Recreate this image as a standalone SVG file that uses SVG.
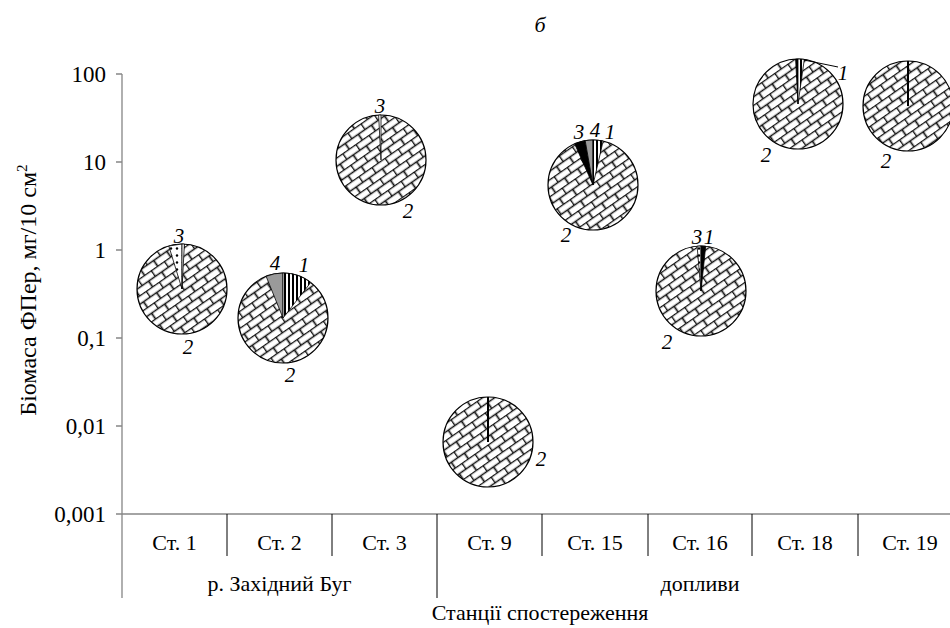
<svg xmlns="http://www.w3.org/2000/svg" width="950" height="628" viewBox="0 0 950 628" font-family="'Liberation Serif', 'DejaVu Serif', 'Times New Roman', serif">
<style>
text{font-family:"Liberation Serif","DejaVu Serif","Times New Roman",serif;fill:#000}
.tick{font-size:23px;text-anchor:end}
.cat{font-size:22px;text-anchor:middle}
.lab{font-size:21px;font-style:italic;text-anchor:middle}
.ax{stroke:#868686;stroke-width:1.3;fill:none}
.sep{stroke:#000;stroke-width:1;fill:none}
.pie{fill:url(#brick);stroke:#000;stroke-width:1.2}
.s1{fill:url(#stripes);stroke:#000;stroke-width:0.8}
.s3{fill:url(#dots);stroke:#000;stroke-width:0.8}
.s4{fill:#9a9a9a;stroke:#000;stroke-width:0.8}
.blk{fill:#000;stroke:#000;stroke-width:0.8}
.ln{stroke:#000;stroke-width:2}
</style>
<defs>
<pattern id="brick" width="16" height="14" patternUnits="userSpaceOnUse" patternTransform="rotate(-35)">
<rect width="16" height="14" fill="#fff"/>
<path d="M0 0.5H16M0 7.5H16M0.5 0.5V7.5M8.5 7.5V14" stroke="#111" stroke-width="1.7" fill="none"/>
</pattern>
<pattern id="stripes" width="4" height="4" patternUnits="userSpaceOnUse">
<rect width="4" height="4" fill="#fff"/>
<rect width="2" height="4" fill="#000"/>
</pattern>
<pattern id="dots" width="6" height="7" patternUnits="userSpaceOnUse">
<rect width="6" height="7" fill="#fff"/>
<circle cx="3" cy="3.5" r="1.2" fill="#000"/>
</pattern>
</defs>

<text x="540" y="32" style="font-size:22px;font-style:italic" text-anchor="middle">б</text>

<g id="axes">
<path class="ax" d="M122 74V598M116 74H122M116 162H122M116 250H122M116 338H122M116 426H122M116 514H950"/>
<path class="sep" d="M227 514V556M332 514V556M437 514V598M542 514V556M648 514V556M752 514V556M858 514V556"/>
<text class="tick" x="106" y="82">100</text>
<text class="tick" x="106" y="170">10</text>
<text class="tick" x="106" y="258">1</text>
<text class="tick" x="106" y="346">0,1</text>
<text class="tick" x="106" y="434">0,01</text>
<text class="tick" x="106" y="522">0,001</text>
<text transform="translate(36 290) rotate(-90)" text-anchor="middle" style="font-size:24px">Біомаса ФПер, мг/10 см<tspan font-size="15" dy="-9">2</tspan></text>
<text class="cat" x="174.5" y="550">Ст. 1</text>
<text class="cat" x="279.5" y="550">Ст. 2</text>
<text class="cat" x="384.5" y="550">Ст. 3</text>
<text class="cat" x="489.5" y="550">Ст. 9</text>
<text class="cat" x="595" y="550">Ст. 15</text>
<text class="cat" x="700" y="550">Ст. 16</text>
<text class="cat" x="805" y="550">Ст. 18</text>
<text class="cat" x="910" y="550">Ст. 19</text>
<text class="cat" x="279.5" y="591">р. Західний Буг</text>
<text class="cat" x="700" y="591">допливи</text>
<text class="cat" x="540" y="620">Станції спостереження</text>
</g>

<g id="st1">
<circle class="pie" cx="182" cy="289" r="45"/>
<path class="s3" d="M182 289L168.8 246L182 244Z"/>
<path class="s1" d="M182 289L182 244L184.4 244.1Z"/>
<text class="lab" x="179" y="243">3</text>
<text class="lab" x="188" y="354">2</text>
</g>

<g id="st2">
<circle class="pie" cx="283" cy="318" r="45"/>
<path class="s4" d="M283 318L266.1 276.3A45 45 0 0 1 283 273Z"/>
<path class="s1" d="M283 318L283 273A45 45 0 0 1 310.7 282.5Z"/>
<text class="lab" x="275" y="270">4</text>
<text class="lab" x="304" y="272">1</text>
<text class="lab" x="290" y="382">2</text>
</g>

<g id="st3">
<circle class="pie" cx="381" cy="160" r="45"/>
<path d="M381 160L378.6 115.1A45 45 0 0 1 381 115Z" fill="#fff" stroke="#000" stroke-width="0.8"/>
<text class="lab" x="380" y="113">3</text>
<text class="lab" x="408" y="218">2</text>
</g>

<g id="st9">
<circle class="pie" cx="488" cy="442" r="45"/>
<line class="ln" x1="488" y1="442" x2="488" y2="397"/>
<text class="lab" x="541" y="466">2</text>
</g>

<g id="st15">
<circle class="pie" cx="593" cy="185" r="45"/>
<path class="blk" d="M593 185L574.7 143.9A45 45 0 0 1 585.2 140.7Z"/>
<path class="s4" d="M593 185L585.2 140.7A45 45 0 0 1 593 140Z"/>
<path class="s1" d="M593 185L593 140A45 45 0 0 1 603.1 141.2Z"/>
<text class="lab" x="579" y="139">3</text>
<text class="lab" x="595" y="137">4</text>
<text class="lab" x="610" y="139">1</text>
<text class="lab" x="566" y="242">2</text>
</g>

<g id="st16">
<circle class="pie" cx="701" cy="291" r="45"/>
<path class="s3" d="M701 291L697.1 246.2A45 45 0 0 1 701 246Z"/>
<path class="blk" d="M701 291L701 246A45 45 0 0 1 705.7 246.2Z"/>
<text class="lab" x="697" y="244">3</text>
<text class="lab" x="709" y="244">1</text>
<text class="lab" x="667" y="349">2</text>
</g>

<g id="st18">
<circle class="pie" cx="798" cy="104" r="45"/>
<path class="blk" d="M798 104L795.6 59.1A45 45 0 0 1 798 59Z"/>
<path class="s1" d="M798 104L798 59A45 45 0 0 1 804.3 59.4Z"/>
<line x1="804" y1="60" x2="838" y2="67" stroke="#000" stroke-width="1"/>
<text class="lab" x="843" y="80">1</text>
<text class="lab" x="766" y="162">2</text>
</g>

<g id="st19">
<circle class="pie" cx="908" cy="106" r="45"/>
<line class="ln" x1="908" y1="106" x2="908" y2="61"/>
<text class="lab" x="886" y="168">2</text>
</g>
</svg>
